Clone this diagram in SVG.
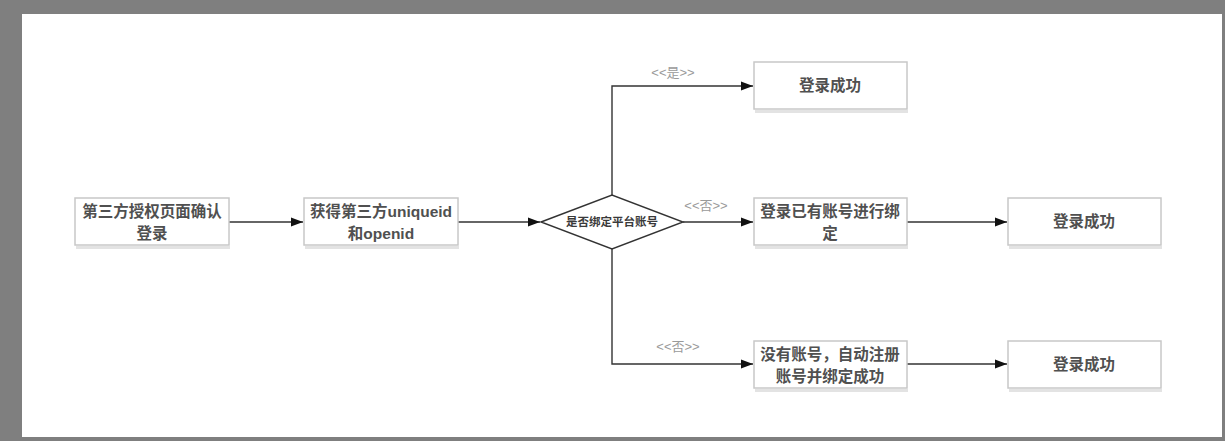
<svg xmlns="http://www.w3.org/2000/svg" width="1225" height="441" viewBox="0 0 1225 441">
<defs>
<style>
.bg{fill:#7f7f7f}
.panel{fill:#ffffff}
.box{fill:#ffffff;stroke:#c8c8c8;stroke-width:1.5}
.shadow{fill:#e3e3e3}
.t{font-family:"Liberation Sans","Noto Sans CJK SC",sans-serif;font-size:15.5px;font-weight:bold;fill:#505050;text-anchor:middle}
.dt{font-family:"Liberation Sans","Noto Sans CJK SC",sans-serif;font-size:11.5px;font-weight:bold;fill:#3a3a3a;text-anchor:middle}
.lbl{font-family:"Liberation Sans","Noto Sans CJK SC",sans-serif;font-size:13px;fill:#9a9a9a;text-anchor:middle}
.c{fill:none;stroke:#333333;stroke-width:1.4}
</style>
<marker id="arr" viewBox="0 0 12 10" refX="12" refY="5" markerWidth="12" markerHeight="10" markerUnits="userSpaceOnUse" orient="auto">
<path d="M0,0.5 L12,5 L0,9.5 Z" fill="#111111"/>
</marker>
</defs>
<rect class="bg" x="0" y="0" width="1225" height="441"/>
<rect class="panel" x="22" y="14" width="1200" height="423"/>

<g id="connectors">
<path class="c" d="M229,222 H303" marker-end="url(#arr)"/>
<path class="c" d="M458,222 H540" marker-end="url(#arr)"/>
<path class="c" d="M612,195 V86 H753" marker-end="url(#arr)"/>
<path class="c" d="M683,222 H753" marker-end="url(#arr)"/>
<path class="c" d="M612,249 V364 H753" marker-end="url(#arr)"/>
<path class="c" d="M907,222 H1007" marker-end="url(#arr)"/>
<path class="c" d="M907,364 H1007" marker-end="url(#arr)"/>
<text class="lbl" x="673" y="77">&lt;&lt;是&gt;&gt;</text>
<text class="lbl" x="706" y="210">&lt;&lt;否&gt;&gt;</text>
<text class="lbl" x="678" y="351">&lt;&lt;否&gt;&gt;</text>
</g>

<g id="n1">
<rect class="shadow" x="76" y="246" width="154" height="3"/>
<rect class="box" x="75" y="198" width="154" height="47"/>
<text class="t" x="152" y="217">第三方授权页面确认</text>
<text class="t" x="152" y="239">登录</text>
</g>
<g id="n2">
<rect class="shadow" x="305" y="246" width="154" height="3"/>
<rect class="box" x="304" y="198" width="154" height="47"/>
<text class="t" x="381" y="217">获得第三方uniqueid</text>
<text class="t" x="381" y="239">和openid</text>
</g>
<g id="decision">
<path d="M541,222 L612,195 L683,222 L612,249 Z" fill="#ffffff" stroke="#333333" stroke-width="1.4"/>
<text class="dt" x="612" y="226">是否绑定平台账号</text>
</g>
<g id="n3">
<rect class="shadow" x="755" y="110" width="153" height="3"/>
<rect class="box" x="754" y="62" width="153" height="47"/>
<text class="t" x="830" y="91">登录成功</text>
</g>
<g id="n4">
<rect class="shadow" x="755" y="246" width="153" height="3"/>
<rect class="box" x="754" y="198" width="153" height="47"/>
<text class="t" x="830" y="217">登录已有账号进行绑</text>
<text class="t" x="830" y="239">定</text>
</g>
<g id="n5">
<rect class="shadow" x="1009" y="246" width="153" height="3"/>
<rect class="box" x="1008" y="198" width="153" height="47"/>
<text class="t" x="1084" y="227">登录成功</text>
</g>
<g id="n6">
<rect class="shadow" x="755" y="389" width="153" height="3"/>
<rect class="box" x="754" y="341" width="153" height="47"/>
<text class="t" x="830" y="360">没有账号，自动注册</text>
<text class="t" x="830" y="382">账号并绑定成功</text>
</g>
<g id="n7">
<rect class="shadow" x="1009" y="389" width="153" height="3"/>
<rect class="box" x="1008" y="341" width="153" height="47"/>
<text class="t" x="1084" y="370">登录成功</text>
</g>
</svg>
